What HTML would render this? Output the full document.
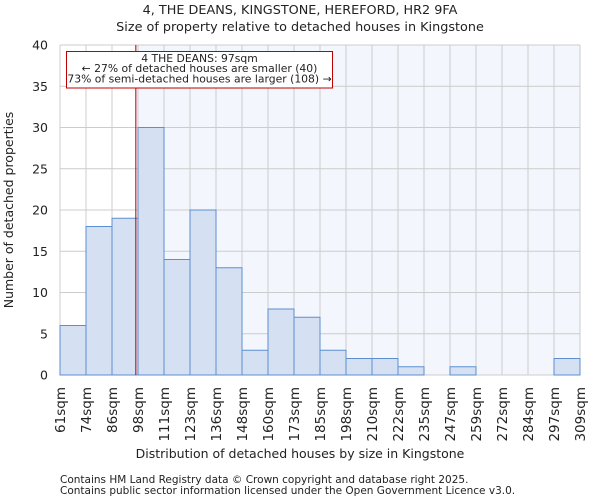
<!DOCTYPE html>
<html><head><meta charset="utf-8"><style>
body{margin:0;background:#fff;font-family:"DejaVu Sans","Liberation Sans",sans-serif;}
svg text{font-family:"DejaVu Sans","Liberation Sans",sans-serif;fill:#222;}
</style></head><body>
<svg id="chart" width="600" height="500" xmlns="http://www.w3.org/2000/svg">
<text x="300" y="14" text-anchor="middle" font-size="12.8">4, THE DEANS, KINGSTONE, HEREFORD, HR2 9FA</text>
<text x="300" y="31" text-anchor="middle" font-size="12.8">Size of property relative to detached houses in Kingstone</text>
<g id="plot"></g>
<text x="300" y="458" text-anchor="middle" font-size="12.5">Distribution of detached houses by size in Kingstone</text>
<text transform="translate(13,210) rotate(-90)" text-anchor="middle" font-size="12.5">Number of detached properties</text>
<text x="60" y="483" font-size="10.5" fill="#444">Contains HM Land Registry data © Crown copyright and database right 2025.</text>
<text x="60" y="494" font-size="10.5" fill="#444">Contains public sector information licensed under the Open Government Licence v3.0.</text>
</svg>
<script>
const binLabels=["61sqm","74sqm","86sqm","98sqm","111sqm","123sqm","136sqm","148sqm","160sqm","173sqm","185sqm","198sqm","210sqm","222sqm","235sqm","247sqm","259sqm","272sqm","284sqm","297sqm","309sqm"];
const binEdges=[61,74,86,98,111,123,136,148,160,173,185,198,210,222,235,247,259,272,284,297,309];
const counts=[6,18,19,30,14,20,13,3,8,7,3,2,2,1,0,1,0,0,0,2];
const yTicks=[0,5,10,15,20,25,30,35,40];
const propertySize=97;
const NS="http://www.w3.org/2000/svg";
const L=60,R=580,T=45,B=375,YMAX=40;
const n=counts.length,bw=(R-L)/n;
const xi=i=>L+i*bw;
const y=v=>B-v/YMAX*(B-T);
function xVal(v){for(let i=0;i<binEdges.length-1;i++){if(v<=binEdges[i+1])return xi(i)+(v-binEdges[i])/(binEdges[i+1]-binEdges[i])*bw;}return R;}
const g=document.getElementById('plot');
function mk(t,a){const e=document.createElementNS(NS,t);for(const k in a)e.setAttribute(k,a[k]);g.appendChild(e);return e;}
const propX=xVal(propertySize);
const sh=mk('rect',{x:propX,y:T,width:R-propX,height:B-T,fill:'#f4f6fd'});


for(let i=0;i<=n;i++){const l=mk('line',{x1:xi(i),x2:xi(i),y1:T,y2:B,stroke:'#cccccc','stroke-width':1});

}
yTicks.forEach(v=>{const l=mk('line',{x1:L,x2:R,y1:y(v),y2:y(v),stroke:'#cccccc','stroke-width':1});


const t=mk('text',{x:L-12,y:y(v)+4.5,'text-anchor':'end','font-size':12.5});t.textContent=v;

});
counts.forEach((c,i)=>{if(c<=0)return;const r=mk('rect',{x:xi(i),y:y(c),width:bw,height:B-y(c),fill:'#d6e0f3',stroke:'#5b8fd0','stroke-width':1});

});
binLabels.forEach((s,i)=>{const t=mk('text',{transform:`translate(${xi(i)+5},387) rotate(-90)`,'text-anchor':'end','font-size':13.5});t.textContent=s;

});
const pl=mk('line',{x1:propX,x2:propX,y1:T,y2:B,stroke:'#b00000','stroke-width':1});


const box=mk('rect',{x:66.5,y:51.5,width:266,height:36.5,fill:'#fff',stroke:'#c00000','stroke-width':1});


["4 THE DEANS: 97sqm","← 27% of detached houses are smaller (40)","73% of semi-detached houses are larger (108) →"].forEach((s,k)=>{const t=mk('text',{x:199.5,y:62+k*10.2,'text-anchor':'middle','font-size':10.8});t.textContent=s;

});
</script>
</body></html>
